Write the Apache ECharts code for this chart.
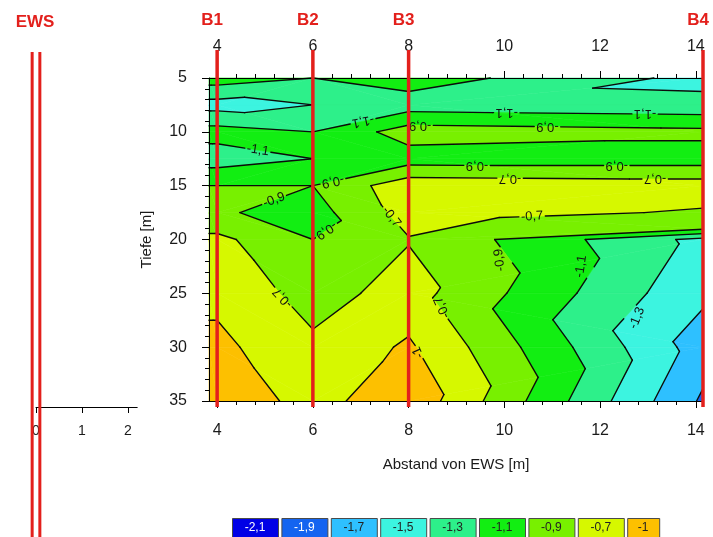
<!DOCTYPE html>
<html>
<head>
<meta charset="utf-8">
<script src="https://cdn.jsdelivr.net/npm/echarts@6/dist/echarts.min.js"></script>
<style>
  html, body { margin: 0; padding: 0; background: #ffffff; }
  #chart { width: 713px; height: 537px; }
</style>
</head>
<body>
<div id="chart"></div>
<script>
// ---- Borehole positions (distance from EWS, m) ----
const boreholeNames = ['B1', 'B2', 'B3', 'B4'];
const boreholeX = [4, 6, 8, 14.15];

// ---- Measured depth profiles (depth in m, value) ----
const depthsB1 = [5, 7.5, 10, 12.5, 15, 17.5, 20, 25, 30, 35];
const valuesB1 = [-1.0, -1.38, -1.02, -1.2, -0.9, -0.875, -0.65, -0.55, -0.45, -0.35];
const depthsB2 = [5, 7.5, 10, 12.5, 15, 17.5, 20, 25, 30, 35];
const valuesB2 = [-1.1, -1.3, -1.1, -1.1, -0.9, -0.98, -0.9, -0.78, -0.66, -0.58];
const depthsB3 = [5, 7.5, 10, 12.5, 15, 17.5, 20, 25, 30, 35];
const valuesB3 = [-1.0, -1.2, -0.8, -1.0, -0.57, -0.62, -0.71, -0.62, -0.47, -0.35];
const depthsB4 = [5, 7.5, 10, 12.5, 15, 17.5, 19, 20, 25, 30, 35];
const valuesB4 = [-1.36, -1.24, -0.85, -1.0, -0.6, -0.72, -0.88, -1.36, -1.46, -1.6, -1.73];

// ---- Contour classes ----
const contourLevels = [-2.1, -1.9, -1.7, -1.5, -1.3, -1.1, -0.9, -0.7, -0.5];
const classLabels = ['-2,1', '-1,9', '-1,7', '-1,5', '-1,3', '-1,1', '-0,9', '-0,7', '-1'];
const classColors = ['#0000e6', '#1464f0', '#2ec0ff', '#3cf4e0', '#2df08a', '#12ee12', '#78f000', '#d6f800', '#fdc000'];

// ---- Axis ticks ----
const distTicks = [4, 6, 8, 10, 12, 14];
const ewsTicks = [0, 1, 2];

// ---------------------------------------------------------------
const X_MIN = 3.83, X_MAX = 14.15, D_MIN = 5, D_MAX = 35;
const FONT = "'Liberation Sans', Arial, sans-serif";
const LABEL_FONT = '13px ' + FONT;
const RED = '#e3201c';

// minor ticks: 5 subdivisions between labelled distances
const distMinorTicks = [];
for (let k = 0; k < distTicks.length - 1; k++) {
  const a = distTicks[k], b = distTicks[k + 1];
  for (let s = 1; s < 5; s++) distMinorTicks.push(+(a + (b - a) * s / 5).toFixed(3));
}

// Profiles: B1 is continued to the left edge of the section
const profiles = [
  { x: X_MIN, d: depthsB1, v: valuesB1 },
  { x: boreholeX[0], d: depthsB1, v: valuesB1 },
  { x: boreholeX[1], d: depthsB2, v: valuesB2 },
  { x: boreholeX[2], d: depthsB3, v: valuesB3 },
  { x: boreholeX[3], d: depthsB4, v: valuesB4 }
];

// Triangulate the strip between two neighbouring profiles
function stitch(L, R) {
  const tris = [];
  const P = (c, k) => [c.x, c.d[k], c.v[k]];
  let i = 0, j = 0;
  while (i < L.d.length - 1 || j < R.d.length - 1) {
    let left;
    if (i === L.d.length - 1) left = false;
    else if (j === R.d.length - 1) left = true;
    else if (L.d[i + 1] < R.d[j + 1]) left = true;
    else if (L.d[i + 1] > R.d[j + 1]) left = false;
    else {
      // same depth on both sides: use the diagonal joining the closer values
      const dA = Math.abs(L.v[i + 1] - R.v[j]);
      const dB = Math.abs(L.v[i] - R.v[j + 1]);
      left = dA < dB;
    }
    if (left) { tris.push([P(L, i), P(L, i + 1), P(R, j)]); i++; }
    else { tris.push([P(L, i), P(R, j), P(R, j + 1)]); j++; }
  }
  return tris;
}

const triangles = [];
for (let c = 0; c < profiles.length - 1; c++) triangles.push(...stitch(profiles[c], profiles[c + 1]));

// Clip a polygon (points [x, d, v]) to v >= level or v < level
function clip(poly, level, keepAbove) {
  const out = [];
  const n = poly.length;
  for (let k = 0; k < n; k++) {
    const a = poly[k], b = poly[(k + 1) % n];
    const ina = keepAbove ? a[2] >= level : a[2] < level;
    const inb = keepAbove ? b[2] >= level : b[2] < level;
    if (ina) out.push(a);
    if (ina !== inb) {
      const t = (level - a[2]) / (b[2] - a[2]);
      out.push([a[0] + t * (b[0] - a[0]), a[1] + t * (b[1] - a[1]), level]);
    }
  }
  return out;
}
function area(poly) {
  let s = 0;
  for (let k = 0; k < poly.length; k++) {
    const a = poly[k], b = poly[(k + 1) % poly.length];
    s += a[0] * b[1] - b[0] * a[1];
  }
  return Math.abs(s / 2);
}

// Filled class polygons
const bandPolys = [];
triangles.forEach(tri => {
  for (let b = 0; b < classColors.length; b++) {
    let poly = tri;
    if (b > 0) poly = clip(poly, contourLevels[b], true);
    if (poly.length >= 3 && b < classColors.length - 1) poly = clip(poly, contourLevels[b + 1], false);
    if (poly.length >= 3 && area(poly) > 1e-7) {
      const cx = poly.reduce((s, p) => s + p[0], 0) / poly.length;
      const cd = poly.reduce((s, p) => s + p[1], 0) / poly.length;
      bandPolys.push({ band: b, pts: poly, cx, cd });
    }
  }
});

// Contour line segments
const contourSegs = [];
triangles.forEach(tri => {
  for (let li = 1; li < contourLevels.length; li++) {
    const L = contourLevels[li];
    const pts = [];
    for (let k = 0; k < 3; k++) {
      const a = tri[k], b = tri[(k + 1) % 3];
      if ((a[2] >= L) !== (b[2] >= L)) {
        const t = (L - a[2]) / (b[2] - a[2]);
        pts.push([a[0] + t * (b[0] - a[0]), a[1] + t * (b[1] - a[1])]);
      }
    }
    if (pts.length === 2) {
      const len = Math.hypot(pts[0][0] - pts[1][0], pts[0][1] - pts[1][1]);
      if (len > 1e-6) contourSegs.push({ level: li, a: pts[0], b: pts[1] });
    }
  }
});

// Where the contour values are written (level index, position, rotation in degrees)
const contourLabelPlacements = [
  { level: 5, x: 4.85, d: 11.7, rot: -9 },
  { level: 6, x: 5.19, d: 16.33, rot: 20 },
  { level: 6, x: 6.42, d: 14.6, rot: 192 },
  { level: 5, x: 7.05, d: 9.02, rot: 192 },
  { level: 6, x: 8.24, d: 9.39, rot: 180 },
  { level: 6, x: 10.9, d: 9.52, rot: 180 },
  { level: 5, x: 10.05, d: 8.22, rot: 180 },
  { level: 5, x: 12.94, d: 8.27, rot: 180 },
  { level: 6, x: 9.43, d: 13.12, rot: 180 },
  { level: 6, x: 12.35, d: 13.13, rot: 180 },
  { level: 7, x: 10.12, d: 14.3, rot: 180 },
  { level: 7, x: 13.15, d: 14.375, rot: 180 },
  { level: 7, x: 10.58, d: 17.86, rot: 4 },
  { level: 6, x: 6.28, d: 19.15, rot: 214 },
  { level: 7, x: 7.64, d: 17.9, rot: -52 },
  { level: 7, x: 5.37, d: 25.4, rot: 133 },
  { level: 7, x: 8.7, d: 26.3, rot: 115 },
  { level: 8, x: 8.2, d: 30.5, rot: 114 },
  { level: 6, x: 9.9, d: 21.9, rot: 97 },
  { level: 5, x: 11.6, d: 22.5, rot: 81 },
  { level: 4, x: 12.77, d: 27.3, rot: 68 }
];

// half text widths, used to open a gap in the isoline under each label
const measureCtx = document.createElement('canvas').getContext('2d');
measureCtx.font = LABEL_FONT;
const labelRadius = contourLabelPlacements.map(p => measureCtx.measureText(classLabels[p.level]).width / 2 + 2);

// parts of segment a-b (pixels) that lie outside the given circles
function openGaps(a, b, circles) {
  let keep = [[0, 1]];
  const dx = b[0] - a[0], dy = b[1] - a[1];
  const A = dx * dx + dy * dy;
  if (A < 1e-9) return [];
  circles.forEach(c => {
    const fx = a[0] - c.x, fy = a[1] - c.y;
    const B = 2 * (fx * dx + fy * dy);
    const C = fx * fx + fy * fy - c.r * c.r;
    const disc = B * B - 4 * A * C;
    if (disc <= 0) return;
    const s = Math.sqrt(disc);
    const t1 = (-B - s) / (2 * A), t2 = (-B + s) / (2 * A);
    const next = [];
    keep.forEach(([u, v]) => {
      if (t2 <= u || t1 >= v) { next.push([u, v]); return; }
      if (t1 > u) next.push([u, t1]);
      if (t2 < v) next.push([t2, v]);
    });
    keep = next;
  });
  return keep.filter(([u, v]) => v - u > 1e-4);
}

const tickText = { fontFamily: FONT, fontSize: 16, color: '#1a1a1a' };

// Class legend along the bottom edge
const legendGraphic = [];
classLabels.forEach((lab, i) => {
  const x = 232 + i * 49.4;
  const w = i === classLabels.length - 1 ? 32 : 46;
  legendGraphic.push({
    type: 'rect', left: x, top: 518, z: 50,
    shape: { x: 0, y: 0, width: w, height: 19 },
    style: { fill: classColors[i], stroke: '#4a4a4a', lineWidth: 1 }
  });
  legendGraphic.push({
    type: 'text', z: 51,
    x: x + w / 2, y: 528,
    style: {
      text: lab, fill: i < 2 ? '#ffffff' : '#222222',
      font: '12px ' + FONT, align: 'center', verticalAlign: 'middle'
    }
  });
});

const chart = echarts.init(document.getElementById('chart'), null, { renderer: 'canvas' });

const option = {
  animation: false,
  backgroundColor: '#ffffff',
  grid: [
    { left: 209, top: 78, width: 494, height: 323, outerBoundsMode: 'none' },
    { left: 36, top: 380, width: 101.2, height: 27, outerBoundsMode: 'none' }
  ],
  xAxis: [
    {
      gridIndex: 0, type: 'value', position: 'bottom', min: X_MIN, max: X_MAX, z: 10,
      axisLine: { show: true, onZero: false, lineStyle: { color: '#000', width: 1 } },
      axisTick: { show: true, customValues: distTicks, length: 7, lineStyle: { color: '#000' } },
      axisLabel: { customValues: distTicks, margin: 22, ...tickText },
      splitLine: { show: false },
      name: 'Abstand von EWS [m]', nameLocation: 'middle', nameGap: 56, nameMoveOverlap: false,
      nameTextStyle: { fontFamily: FONT, fontSize: 15, color: '#1a1a1a' }
    },
    {
      gridIndex: 0, type: 'value', position: 'bottom', min: X_MIN, max: X_MAX, z: 10,
      axisLine: { show: false },
      axisTick: { show: true, customValues: distMinorTicks, length: 4, lineStyle: { color: '#000' } },
      axisLabel: { show: false }, splitLine: { show: false }
    },
    {
      gridIndex: 0, type: 'value', position: 'top', min: X_MIN, max: X_MAX, z: 10,
      axisLine: { show: true, onZero: false, lineStyle: { color: '#000', width: 1 } },
      axisTick: { show: true, customValues: distTicks, length: 7, lineStyle: { color: '#000' } },
      axisLabel: { customValues: distTicks, margin: 23, ...tickText },
      splitLine: { show: false }
    },
    {
      gridIndex: 0, type: 'value', position: 'top', min: X_MIN, max: X_MAX, z: 10,
      axisLine: { show: false },
      axisTick: { show: true, customValues: distMinorTicks, length: 4, lineStyle: { color: '#000' } },
      axisLabel: { show: false }, splitLine: { show: false }
    },
    {
      gridIndex: 1, type: 'value', position: 'bottom', min: 0, max: 2.2, z: 10,
      axisLine: { show: true, onZero: false, lineStyle: { color: '#000', width: 1 } },
      axisTick: { show: true, customValues: ewsTicks, length: 6, lineStyle: { color: '#000' } },
      axisLabel: { customValues: ewsTicks, margin: 17, fontFamily: FONT, fontSize: 14, color: '#1a1a1a' },
      splitLine: { show: false }
    }
  ],
  yAxis: [
    {
      gridIndex: 0, type: 'value', inverse: true, min: D_MIN, max: D_MAX, interval: 5, z: 10,
      axisLine: { show: true, onZero: false, lineStyle: { color: '#000', width: 1 } },
      axisTick: { show: true, length: 7, lineStyle: { color: '#000' } },
      minorTick: { show: true, splitNumber: 5, length: 4, lineStyle: { color: '#000' } },
      axisLabel: { margin: 22, ...tickText },
      splitLine: { show: false }, minorSplitLine: { show: false },
      name: 'Tiefe [m]', nameLocation: 'middle', nameGap: 55, nameMoveOverlap: false,
      nameTextStyle: { fontFamily: FONT, fontSize: 15, color: '#1a1a1a' }
    },
    { gridIndex: 1, type: 'value', min: 0, max: 1, show: false }
  ],
  series: [
    {
      // filled contour classes
      type: 'custom', name: 'classes', xAxisIndex: 0, yAxisIndex: 0, z: 1, silent: true,
      data: bandPolys.map((p, i) => [p.cx, p.cd, i]),
      encode: { x: 0, y: 1 },
      renderItem(params, api) {
        const p = bandPolys[params.dataIndex];
        const pts = p.pts.map(q => api.coord([q[0], q[1]]));
        const col = classColors[p.band];
        return { type: 'polygon', shape: { points: pts }, style: { fill: col, stroke: col, lineWidth: 0.6 } };
      }
    },
    {
      // contour lines, interrupted where a value is written
      type: 'custom', name: 'isolines', xAxisIndex: 0, yAxisIndex: 0, z: 2, silent: true,
      data: contourSegs.map((s, i) => [s.a[0], s.a[1], i]),
      encode: { x: 0, y: 1 },
      renderItem(params, api) {
        const s = contourSegs[params.dataIndex];
        const a = api.coord(s.a), b = api.coord(s.b);
        const circles = [];
        contourLabelPlacements.forEach((p, k) => {
          if (p.level !== s.level) return;
          const c = api.coord([p.x, p.d]);
          circles.push({ x: c[0], y: c[1], r: labelRadius[k] });
        });
        const parts = openGaps(a, b, circles);
        return {
          type: 'group',
          children: parts.map(([u, v]) => ({
            type: 'line',
            shape: {
              x1: a[0] + u * (b[0] - a[0]), y1: a[1] + u * (b[1] - a[1]),
              x2: a[0] + v * (b[0] - a[0]), y2: a[1] + v * (b[1] - a[1])
            },
            style: { stroke: '#0b0b0b', lineWidth: 1.4, lineCap: 'round' }
          }))
        };
      }
    },
    {
      // contour values written on the lines
      type: 'custom', name: 'isoline labels', xAxisIndex: 0, yAxisIndex: 0, z: 3, silent: true,
      data: contourLabelPlacements.map((p, i) => [p.x, p.d, i]),
      encode: { x: 0, y: 1 },
      renderItem(params, api) {
        const p = contourLabelPlacements[params.dataIndex];
        const c = api.coord([p.x, p.d]);
        return {
          type: 'text', x: c[0], y: c[1], rotation: p.rot * Math.PI / 180,
          style: {
            text: classLabels[p.level], font: LABEL_FONT, fill: '#111111',
            align: 'center', verticalAlign: 'middle'
          }
        };
      }
    },
    {
      // borehole markers
      type: 'custom', name: 'boreholes', xAxisIndex: 0, yAxisIndex: 0, z: 20, silent: true,
      data: boreholeX.map((x, i) => [x, D_MIN, i]),
      encode: { x: 0, y: 1 },
      renderItem(params, api) {
        const i = params.dataIndex;
        const top = api.coord([boreholeX[i], D_MIN]);
        const bottom = api.coord([boreholeX[i], D_MAX]);
        return {
          type: 'group',
          children: [
            {
              type: 'line',
              shape: { x1: top[0], y1: top[1] - 28, x2: top[0], y2: bottom[1] + 6 },
              style: { stroke: RED, lineWidth: 3.5 }
            },
            {
              type: 'text', x: top[0] - 5, y: top[1] - 58,
              style: {
                text: boreholeNames[i], font: 'bold 17px ' + FONT, fill: RED,
                align: 'center', verticalAlign: 'middle'
              }
            }
          ]
        };
      }
    },
    {
      // EWS probe
      type: 'custom', name: 'EWS', xAxisIndex: 4, yAxisIndex: 1, z: 20, silent: true,
      data: [[0, 0]],
      encode: { x: 0, y: 1 },
      renderItem(params, api) {
        const c = api.coord([0, 0]);
        return {
          type: 'group',
          children: [
            { type: 'line', shape: { x1: c[0] - 3.85, y1: 52, x2: c[0] - 3.85, y2: 537 }, style: { stroke: RED, lineWidth: 3 } },
            { type: 'line', shape: { x1: c[0] + 3.85, y1: 52, x2: c[0] + 3.85, y2: 537 }, style: { stroke: RED, lineWidth: 3 } },
            {
              type: 'text', x: c[0] - 1, y: 22,
              style: { text: 'EWS', font: 'bold 17px ' + FONT, fill: RED, align: 'center', verticalAlign: 'middle' }
            }
          ]
        };
      }
    }
  ],
  graphic: legendGraphic
};

chart.setOption(option);
</script>
</body>
</html>
